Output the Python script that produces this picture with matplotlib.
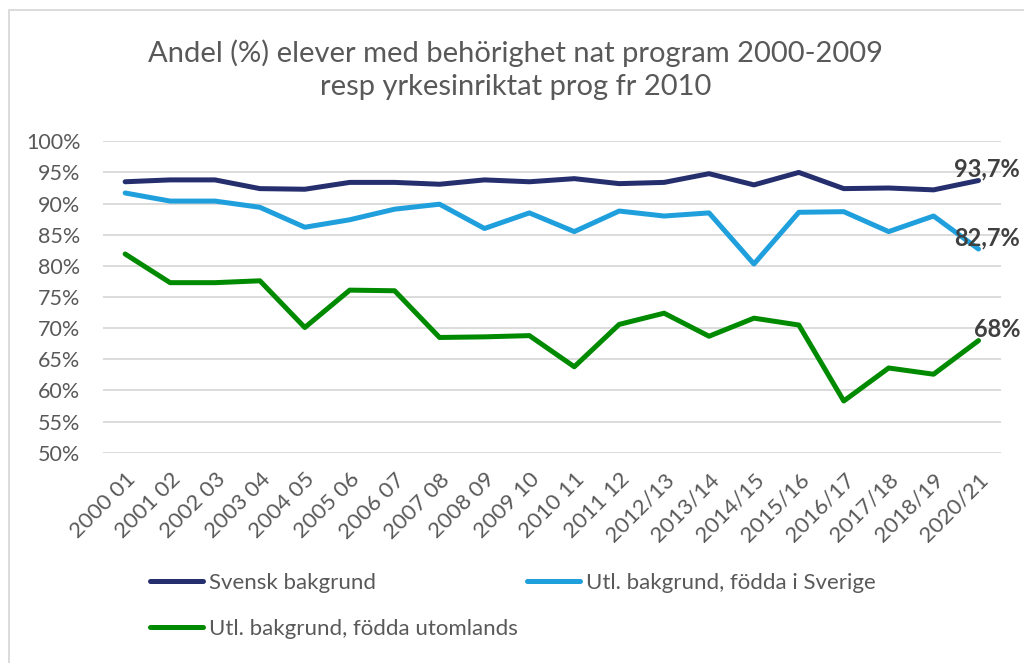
import matplotlib.pyplot as plt
from matplotlib.patches import Rectangle
from matplotlib.ticker import MultipleLocator, PercentFormatter

plt.rcParams['font.family'] = ['Lato', 'DejaVu Sans']

# läsår
years = ["2000 01", "2001 02", "2002 03", "2003 04", "2004 05", "2005 06",
         "2006 07", "2007 08", "2008 09", "2009 10", "2010 11", "2011 12",
         "2012/13", "2013/14", "2014/15", "2015/16", "2016/17", "2017/18",
         "2018/19", "2020/21"]

svensk = [93.5, 93.8, 93.8, 92.4, 92.3, 93.4, 93.4, 93.1, 93.8, 93.5,
          94.0, 93.2, 93.4, 94.8, 93.0, 95.0, 92.4, 92.5, 92.2, 93.7]
fodda_sverige = [91.7, 90.4, 90.4, 89.4, 86.2, 87.4, 89.1, 89.9, 86.0, 88.5,
                 85.5, 88.8, 88.0, 88.5, 80.3, 88.6, 88.7, 85.5, 88.0, 82.7]
fodda_utomlands = [81.9, 77.3, 77.3, 77.6, 70.1, 76.1, 76.0, 68.5, 68.6, 68.8,
                   63.8, 70.6, 72.4, 68.7, 71.6, 70.5, 58.3, 63.6, 62.6, 68.0]

names = ["Svensk bakgrund", "Utl. bakgrund, födda i Sverige",
         "Utl. bakgrund, födda utomlands"]
end_labels = ["93,7%", "82,7%", "68%"]
colors = ["#262F6E", "#1FA0DC", "#008A00"]

txt = "#595959"

fig = plt.figure(figsize=(10.24, 6.63), dpi=100)
ax = fig.add_axes([0.1003, 0.3172, 0.8772, 0.4697])

lines = []
for vals, name, col, lab in zip([svensk, fodda_sverige, fodda_utomlands], names, colors, end_labels):
    ln, = ax.plot(range(len(years)), vals, color=col, lw=3.6,
                  solid_capstyle='round', solid_joinstyle='round', label=name)
    lines.append(ln)
    ax.annotate(lab, (len(years) - 1, vals[-1]), xytext=(30, 8),
                textcoords='offset points', ha='right', va='center',
                fontsize=17, fontweight='bold', color='#404040')

ax.set_xlim(-0.5, len(years) - 0.5)
ax.set_ylim(50, 100)
ax.yaxis.set_major_locator(MultipleLocator(5))
ax.yaxis.set_major_formatter(PercentFormatter(xmax=100, decimals=0))
ax.set_xticks(range(len(years)))
ax.set_xticklabels(years, rotation=45, ha='right', rotation_mode='anchor')
ax.tick_params(axis='both', length=0, labelcolor=txt)
ax.tick_params(axis='y', pad=16, labelsize=15.5)
ax.tick_params(axis='x', pad=12, labelsize=16)
for s in ax.spines.values():
    s.set_visible(False)
ax.yaxis.grid(True, color='#D9D9D9', lw=1.3)
ax.set_axisbelow(True)

fig.text(516 / 1024, 1 - 53 / 663, "Andel (%) elever med behörighet nat program 2000-2009",
         ha='center', va='center', fontsize=21, color=txt)
fig.text(516 / 1024, 1 - 87 / 663, "resp yrkesinriktat prog fr 2010",
         ha='center', va='center', fontsize=21, color=txt)

# radvis ordning i legenden
leg = fig.legend([lines[0], lines[2], lines[1]], [names[0], names[2], names[1]],
                 ncol=2, loc='upper left', bbox_to_anchor=(150 / 1024, 1 - 573 / 663),
                 frameon=False, borderpad=0, borderaxespad=0, fontsize=16,
                 handlelength=2.4, handletextpad=0.25, labelspacing=1.15,
                 columnspacing=0.4, labelcolor=txt)

fig.add_artist(Rectangle((9 / 1024, -0.1), 1.2, 1 - 10 / 663 + 0.1,
                         transform=fig.transFigure, fill=False,
                         ec='#D9D9D9', lw=1.3))

fig.savefig("out.png", dpi=100)
